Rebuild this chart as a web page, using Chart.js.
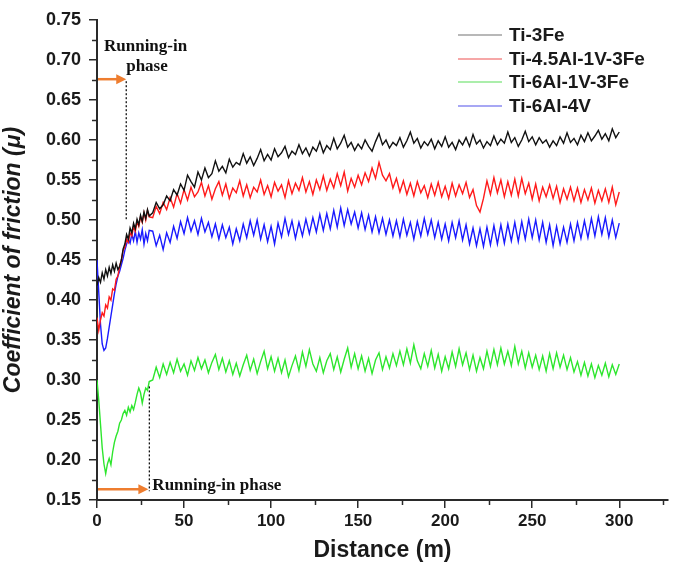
<!DOCTYPE html>
<html><head><meta charset="utf-8">
<script src="https://cdn.jsdelivr.net/npm/chart.js@4.4.1/dist/chart.umd.min.js"></script>
<style>html,body{margin:0;padding:0;background:#fff}canvas{display:block}</style>
</head><body>
<canvas id="c" width="678" height="565"></canvas>
<script>
// Sliding distance (m)
const distance = [
0,1,2,3,4,5,6,7,8,9,10,11,12,13,14,15,16,17,18,19,20,21,22,23,24,25,26,27,28,29,30,
32,34,36,38,40,42,44,46,48,50,52,54,56,58,60,62,64,66,68,70,72,74,76,78,80,
82,84,86,88,90,92,94,96,98,100,102,104,106,108,110,112,114,116,118,120,
122,124,126,128,130,132,134,136,138,140,142,144,146,148,150,152,154,156,158,160,
162,164,166,168,170,172,174,176,178,180,182,184,186,188,190,192,194,196,198,200,
202,204,206,208,210,212,214,216,218,220,222,224,226,228,230,232,234,236,238,240,
242,244,246,248,250,252,254,256,258,260,262,264,266,268,270,272,274,276,278,280,
282,284,286,288,290,292,294,296,298,300];

const ti3Fe = [
0.418,0.428,0.422,0.434,0.426,0.438,0.430,0.441,0.433,0.444,0.436,0.446,0.438,0.442,0.450,0.464,0.470,0.482,0.476,0.490,0.484,0.496,0.489,0.501,0.494,0.506,0.498,0.510,0.502,0.513,0.505,
0.509,0.522,0.514,0.519,0.530,0.524,0.538,0.531,0.545,0.537,
0.556,0.548,0.541,0.560,0.550,0.565,0.553,0.558,0.574,0.561,
0.567,0.559,0.576,0.566,0.572,0.569,0.583,0.571,0.579,0.568,
0.577,0.588,0.574,0.582,0.575,0.589,0.579,0.584,0.592,0.578,
0.586,0.582,0.594,0.583,0.590,0.580,0.591,0.586,0.598,0.584,
0.593,0.588,0.602,0.589,0.596,0.606,0.591,0.597,0.587,0.595,
0.589,0.600,0.592,0.586,0.598,0.608,0.594,0.600,0.590,0.597,
0.593,0.603,0.591,0.599,0.610,0.596,0.602,0.590,0.598,0.593,
0.601,0.589,0.599,0.592,0.604,0.591,0.597,0.588,0.600,0.594,
0.603,0.592,0.607,0.595,0.600,0.590,0.598,0.593,0.605,0.594,
0.601,0.596,0.610,0.597,0.603,0.592,0.600,0.611,0.598,0.604,
0.594,0.603,0.596,0.600,0.591,0.599,0.593,0.604,0.596,0.609,
0.597,0.602,0.594,0.606,0.598,0.609,0.599,0.605,0.612,0.601,
0.608,0.599,0.614,0.603,0.610];

const ti45Al1V3Fe = [
0.378,0.362,0.375,0.384,0.380,0.394,0.390,0.404,0.400,0.414,0.412,0.426,0.430,0.442,0.450,0.462,0.466,0.476,0.472,0.484,0.480,0.492,0.486,0.498,0.492,0.504,0.497,0.509,0.500,0.512,0.504,
0.503,0.517,0.508,0.522,0.513,0.528,0.516,0.533,0.521,0.538,
0.525,0.541,0.529,0.535,0.547,0.530,0.543,0.526,0.539,0.548,
0.531,0.545,0.527,0.540,0.534,0.549,0.530,0.544,0.528,0.541,
0.535,0.550,0.532,0.543,0.529,0.547,0.536,0.544,0.528,0.549,
0.533,0.546,0.537,0.553,0.535,0.548,0.532,0.550,0.538,0.555,
0.537,0.551,0.540,0.558,0.543,0.560,0.536,0.552,0.541,0.556,
0.544,0.559,0.548,0.565,0.552,0.572,0.556,0.549,0.558,0.540,
0.552,0.535,0.549,0.532,0.546,0.530,0.548,0.534,0.543,0.528,
0.545,0.531,0.547,0.529,0.542,0.527,0.546,0.530,0.544,0.533,
0.547,0.528,0.538,0.518,0.510,0.527,0.549,0.532,0.553,0.534,
0.550,0.529,0.548,0.531,0.551,0.530,0.552,0.533,0.546,0.526,
0.545,0.524,0.541,0.529,0.544,0.527,0.542,0.522,0.539,0.526,
0.541,0.524,0.540,0.522,0.538,0.525,0.540,0.521,0.537,0.524,
0.539,0.522,0.541,0.519,0.535];

const ti6Al1V3Fe = [
0.300,0.275,0.245,0.215,0.195,0.183,0.195,0.202,0.194,0.210,0.222,0.230,0.236,0.246,0.250,0.258,0.262,0.256,0.266,0.260,0.268,0.263,0.272,0.282,0.290,0.284,0.271,0.282,0.290,0.287,0.298,
0.300,0.316,0.303,0.320,0.307,0.322,0.309,0.326,0.311,0.320,
0.306,0.324,0.312,0.328,0.314,0.325,0.309,0.322,0.332,0.313,
0.327,0.310,0.324,0.307,0.321,0.305,0.319,0.331,0.312,0.326,
0.308,0.323,0.336,0.314,0.329,0.311,0.327,0.309,0.325,0.304,
0.318,0.330,0.312,0.335,0.317,0.338,0.320,0.311,0.328,0.309,
0.324,0.333,0.313,0.329,0.310,0.326,0.340,0.316,0.333,0.314,
0.330,0.311,0.327,0.308,0.325,0.334,0.313,0.329,0.315,0.333,
0.318,0.336,0.319,0.339,0.321,0.344,0.324,0.314,0.333,0.317,
0.337,0.315,0.332,0.311,0.329,0.314,0.335,0.317,0.339,0.319,
0.334,0.313,0.331,0.311,0.328,0.314,0.336,0.317,0.338,0.319,
0.340,0.320,0.336,0.318,0.342,0.320,0.336,0.315,0.334,0.316,
0.331,0.313,0.330,0.311,0.333,0.314,0.334,0.316,0.331,0.313,
0.328,0.310,0.323,0.306,0.322,0.305,0.320,0.303,0.318,0.306,
0.321,0.304,0.319,0.307,0.320];

const ti6Al4V = [
0.450,0.410,0.370,0.345,0.337,0.340,0.352,0.366,0.380,0.394,0.408,0.420,0.430,0.436,0.444,0.452,0.462,0.470,0.476,0.471,0.482,0.474,0.486,0.472,0.484,0.476,0.488,0.470,0.483,0.474,0.487,
0.486,0.468,0.481,0.463,0.484,0.472,0.492,0.477,0.498,0.483,
0.503,0.486,0.499,0.482,0.502,0.485,0.497,0.479,0.495,0.476,
0.494,0.478,0.491,0.470,0.489,0.474,0.495,0.478,0.499,0.481,
0.500,0.476,0.494,0.473,0.492,0.470,0.496,0.479,0.502,0.482,
0.499,0.477,0.497,0.480,0.501,0.483,0.503,0.485,0.507,0.487,
0.508,0.489,0.512,0.491,0.515,0.493,0.513,0.495,0.510,0.490,
0.509,0.488,0.506,0.485,0.504,0.484,0.502,0.482,0.500,0.480,
0.499,0.479,0.501,0.481,0.497,0.476,0.498,0.480,0.502,0.482,
0.500,0.478,0.497,0.476,0.495,0.474,0.497,0.478,0.499,0.475,
0.494,0.470,0.490,0.468,0.489,0.467,0.491,0.469,0.493,0.470,
0.494,0.471,0.495,0.474,0.497,0.473,0.498,0.476,0.501,0.478,
0.500,0.475,0.497,0.472,0.494,0.468,0.492,0.470,0.491,0.472,
0.495,0.474,0.497,0.477,0.499,0.478,0.502,0.480,0.504,0.482,
0.503,0.479,0.500,0.478,0.496];

const seriesNames = ['Ti-3Fe','Ti-4.5Al-1V-3Fe','Ti-6Al-1V-3Fe','Ti-6Al-4V'];
const seriesValues = [ti3Fe, ti45Al1V3Fe, ti6Al1V3Fe, ti6Al4V];
const seriesColors = ['#111111','#ff1a1a','#2de62d','#1a1aff'];
const legendColors = ['#a0a0a0','#f38a8a','#8fe88f','#8a8af0'];

const yTickValues = [0.15,0.20,0.25,0.30,0.35,0.40,0.45,0.50,0.55,0.60,0.65,0.70,0.75];
const xMinorTicks = [25,75,125,175,225,275,325];
const yMinorTicks = [0.175,0.225,0.275,0.325,0.375,0.425,0.475,0.525,0.575,0.625,0.675,0.725];

const axisColor = '#2a2a2a';
const sans = "'Liberation Sans', Arial, sans-serif";
const serif = "'Liberation Serif', 'Times New Roman', serif";

const datasets = seriesNames.map((name, i) => ({
  label: name,
  data: distance.map((d, k) => ({x: d, y: seriesValues[i][k]})),
  borderColor: seriesColors[i],
  borderWidth: 1.4,
  pointRadius: 0,
  tension: 0,
  fill: false
}));

const extras = {
  id: 'extras',
  afterDatasetsDraw(chart) {
    const {ctx, scales: {x, y}} = chart;
    ctx.save();
    // minor ticks
    ctx.strokeStyle = axisColor; ctx.lineWidth = 1.5;
    xMinorTicks.forEach(v => {
      const px = Math.round(x.getPixelForValue(v)) + 0.5;
      ctx.beginPath(); ctx.moveTo(px, y.bottom); ctx.lineTo(px, y.bottom + 5); ctx.stroke();
    });
    yMinorTicks.forEach(v => {
      const py = Math.round(y.getPixelForValue(v)) + 0.5;
      ctx.beginPath(); ctx.moveTo(x.left, py); ctx.lineTo(x.left - 5, py); ctx.stroke();
    });

    // running-in annotations
    const arrow = (x0, x1, py) => {
      ctx.strokeStyle = '#ee7d2f'; ctx.fillStyle = '#ee7d2f'; ctx.lineWidth = 2.5;
      ctx.setLineDash([]);
      ctx.beginPath(); ctx.moveTo(x0, py); ctx.lineTo(x1 - 8, py); ctx.stroke();
      ctx.beginPath(); ctx.moveTo(x1, py); ctx.lineTo(x1 - 10, py - 5); ctx.lineTo(x1 - 10, py + 5); ctx.closePath(); ctx.fill();
    };
    const dotted = (px, y0, y1) => {
      ctx.strokeStyle = '#111'; ctx.lineWidth = 1.3; ctx.setLineDash([2, 2]);
      ctx.beginPath(); ctx.moveTo(px, y0); ctx.lineTo(px, y1); ctx.stroke();
      ctx.setLineDash([]);
    };
    // top
    const tx = x.getPixelForValue(16.8);
    const ty = y.getPixelForValue(0.676);
    arrow(x.left + 1, tx, ty);
    dotted(tx, ty + 2, y.getPixelForValue(0.50));
    ctx.fillStyle = '#111'; ctx.font = 'bold 17px ' + serif; ctx.textBaseline = 'middle';
    ctx.textAlign = 'left';
    ctx.fillText('Running-in', 104, 47);
    ctx.textAlign = 'center';
    ctx.fillText('phase', 147, 67);
    // bottom
    const bx = x.getPixelForValue(29.5);
    const by = y.getPixelForValue(0.1635);
    arrow(x.left + 1, bx, by);
    dotted(bx + 1, y.getPixelForValue(0.292), by + 2);
    ctx.fillStyle = '#111'; ctx.textAlign = 'left';
    ctx.fillText('Running-in phase', bx + 4, by - 4);

    // legend
    ctx.font = 'bold 19px ' + sans; ctx.textAlign = 'left'; ctx.textBaseline = 'middle';
    const rows = [35, 59, 82, 106];
    seriesNames.forEach((n, i) => {
      ctx.strokeStyle = legendColors[i]; ctx.lineWidth = 1.6;
      ctx.beginPath(); ctx.moveTo(458, rows[i]); ctx.lineTo(502, rows[i]); ctx.stroke();
      ctx.fillStyle = '#1a1a1a';
      ctx.fillText(n, 509, rows[i] + 1);
    });
    ctx.restore();
  }
};

new Chart(document.getElementById('c'), {
  type: 'line',
  data: {datasets},
  options: {
    responsive: false,
    animation: false,
    devicePixelRatio: 1,
    layout: {padding: {top: 20, right: 10, left: 0, bottom: 0}},
    plugins: {legend: {display: false}, tooltip: {enabled: false}},
    scales: {
      x: {
        type: 'linear', min: 0, max: 328,
        afterFit(s) { s.height = 65; },
        border: {display: true, color: axisColor, width: 2},
        grid: {display: true, drawOnChartArea: false, drawTicks: true, tickLength: 8, color: axisColor, lineWidth: 1.5},
        ticks: {stepSize: 50, includeBounds: false, padding: 3, color: '#1a1a1a', font: {family: sans, size: 17, weight: 'bold'}, maxRotation: 0},
        title: {display: true, text: 'Distance (m)', color: '#1a1a1a', font: {family: sans, size: 23, weight: 'bold'}, padding: {top: 0, bottom: 1}}
      },
      y: {
        type: 'linear', min: 0.15, max: 0.75,
        afterFit(s) { s.width = 97; },
        afterBuildTicks(s) { s.ticks = yTickValues.map(v => ({value: v})); },
        border: {display: true, color: axisColor, width: 2},
        grid: {display: true, drawOnChartArea: false, drawTicks: true, tickLength: 8, color: axisColor, lineWidth: 1.5},
        ticks: {padding: 8, color: '#1a1a1a', font: {family: sans, size: 18, weight: 'bold'}, callback: v => v.toFixed(2)},
        title: {display: true, text: 'Coefficient of friction (\u03bc)', color: '#1a1a1a', font: {family: sans, size: 23, weight: 'bold', style: 'italic'}, padding: {top: 0, bottom: 0}}
      }
    }
  },
  plugins: [extras]
});
</script>
</body></html>
